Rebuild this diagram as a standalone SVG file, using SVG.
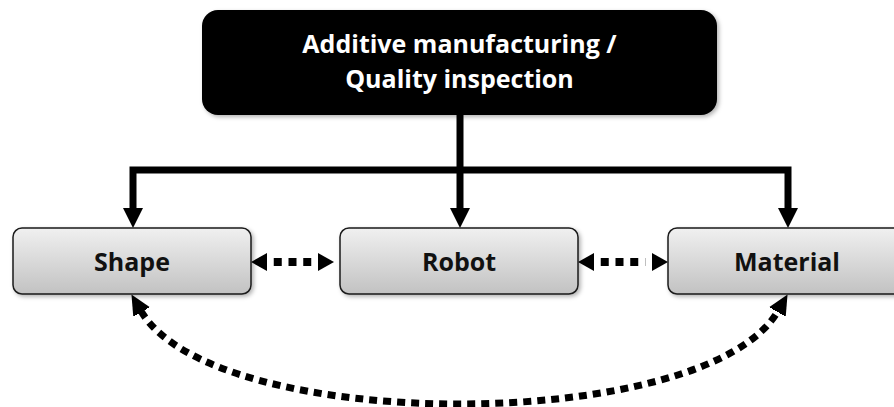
<svg xmlns="http://www.w3.org/2000/svg" width="894" height="407" viewBox="0 0 894 407">
<style>
.box{fill:url(#g);stroke:#1a1a1a;stroke-width:1.5;filter:url(#sh)}
.lbl{font-family:"Open Sans","Liberation Sans",sans-serif;font-weight:700;font-size:25px;text-anchor:middle;fill:#111}
.top{fill:#ffffff}
.solid{fill:none;stroke:#000;stroke-width:7;stroke-linejoin:miter}
.dot{fill:none;stroke:#000;stroke-width:8;stroke-dasharray:8 6.75}
.dotc{fill:none;stroke:#000;stroke-width:7;stroke-dasharray:8 6}
</style>
<defs>
<linearGradient id="g" x1="0" y1="0" x2="0" y2="1">
<stop offset="0" stop-color="#f0f0f0"/>
<stop offset="1" stop-color="#c2c2c2"/>
</linearGradient>
<filter id="sh" x="-10%" y="-20%" width="120%" height="150%">
<feDropShadow dx="2" dy="2" stdDeviation="2" flood-color="#000" flood-opacity="0.3"/>
</filter>
<marker id="ah" markerUnits="userSpaceOnUse" markerWidth="24" markerHeight="24" viewBox="0 -12 22 24" refX="0" refY="0" orient="auto-start-reverse">
<path d="M0,-10 L20,0 L0,10 Z" fill="#000"/>
</marker>
<marker id="ad" markerUnits="userSpaceOnUse" markerWidth="26" markerHeight="22" viewBox="0 -11 24 22" refX="0" refY="0" orient="auto-start-reverse">
<path d="M6.75,-9 L22.75,0 L6.75,9 Z" fill="#000"/>
</marker>
<marker id="ac" markerUnits="userSpaceOnUse" markerWidth="24" markerHeight="24" viewBox="0 -12 22 24" refX="0" refY="0" orient="auto-start-reverse">
<path d="M-2,-10 L19,0 L-2,10 Z" fill="#000"/>
</marker>
</defs>
<g id="connectors">
<path class="solid" d="M460,115 V208" marker-end="url(#ah)"/>
<path class="solid" d="M133,208 V170 H788 V208" marker-start="url(#ah)" marker-end="url(#ah)"/>
<path class="dot" d="M273.75,262 L311.25,262" marker-start="url(#ad)" marker-end="url(#ad)"/>
<path class="dot" d="M600.75,262 L645.25,262" marker-start="url(#ad)" marker-end="url(#ad)"/>
<path class="dotc" d="M141,311 C213,435 706,435 778,311" marker-start="url(#ac)" marker-end="url(#ac)"/>
</g>
<g id="node-top">
<rect x="202" y="10" width="515" height="105" rx="16" fill="#000" filter="url(#sh)"/>
<text class="lbl top" x="459.5" y="53">Additive manufacturing /</text>
<text class="lbl top" x="459.5" y="88">Quality inspection</text>
</g>
<g id="node-shape">
<rect class="box" x="13" y="228" width="238" height="66" rx="9"/>
<text class="lbl" x="132" y="271">Shape</text>
</g>
<g id="node-robot">
<rect class="box" x="340" y="228" width="238" height="66" rx="9"/>
<text class="lbl" x="459" y="271">Robot</text>
</g>
<g id="node-material">
<rect class="box" x="668" y="228" width="238" height="66" rx="9"/>
<text class="lbl" x="787" y="271">Material</text>
</g>
</svg>
